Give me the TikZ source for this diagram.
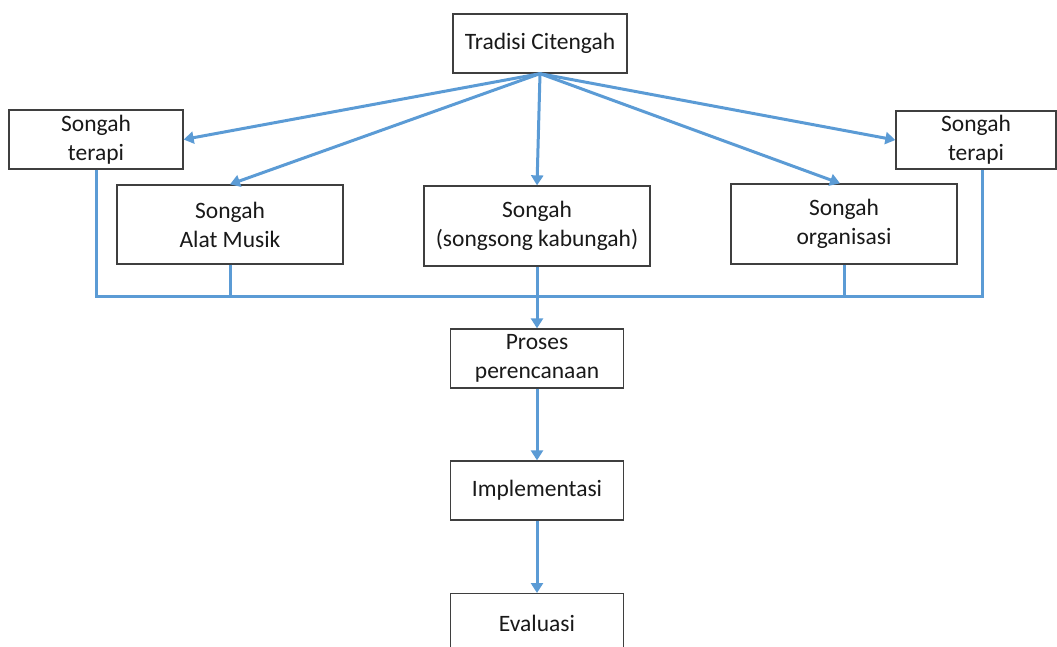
\documentclass[tikz,border=0pt]{standalone}
\usepackage{fontspec}
\setmainfont{Carlito}
\usetikzlibrary{arrows.meta}
\definecolor{flow}{HTML}{5B9BD5}
\definecolor{frame}{HTML}{3F3F3F}
\begin{document}
\begin{tikzpicture}[x=1pt,y=-1pt,
  box/.style={draw=frame,line width=1.3pt,fill=white,align=center,inner sep=0pt,
    font=\fontsize{23.5}{29}\selectfont,text=black!90},
  link/.style={draw=flow,line width=3pt},
  arr/.style={link,-{Triangle[width=12pt,length=10pt]}}]
\useasboundingbox (0,0) rectangle (1057,646);
% boxes
\node[box,minimum width=174pt,minimum height=59pt] (top) at (540,43.5) {Tradisi Citengah};
\node[box,minimum width=174pt,minimum height=59pt] (lt) at (96,139.5) {Songah\\terapi};
\node[box,minimum width=160pt,minimum height=58pt] (rt) at (976,140) {Songah\\terapi};
\node[box,minimum width=226pt,minimum height=79pt] (am) at (230,224.5) {Songah\\Alat Musik};
\node[box,minimum width=226pt,minimum height=80pt] (so) at (537,226) {Songah\\(songsong kabungah)};
\node[box,minimum width=226pt,minimum height=80pt] (org) at (844,224) {Songah\\organisasi};
\node[box,minimum width=173pt,minimum height=59pt] (pp) at (537,358.5) {Proses\\perencanaan};
\node[box,minimum width=173pt,minimum height=59pt] (imp) at (537,490.5) {Implementasi};
\node[box,minimum width=173pt,minimum height=60pt,anchor=north] (ev) at (537,593) {Evaluasi};
% bus joining the level-two boxes
\coordinate (busL) at (96,296.5);
\coordinate (busR) at (982,296.5);
\path[link] (lt.south) -- (busL) -- (busR) -- (rt.south -| busR);
\path[link] (am.south) -- (am.south |- busL);
\path[link] (org.south) -- (org.south |- busL);
% fan-out from the root
\path[arr] (top.south) -- (lt.east);
\path[arr] (top.south) -- (am.north);
\path[arr] (top.south) -- (so.north);
\path[arr] (top.south) -- ([xshift=-4pt]org.north);
\path[arr] (top.south) -- (rt.west);
% main sequence
\path[arr] (so.south) -- (pp.north);
\path[arr] (pp.south) -- (imp.north);
\path[arr] (imp.south) -- (ev.north);
\end{tikzpicture}
\end{document}
